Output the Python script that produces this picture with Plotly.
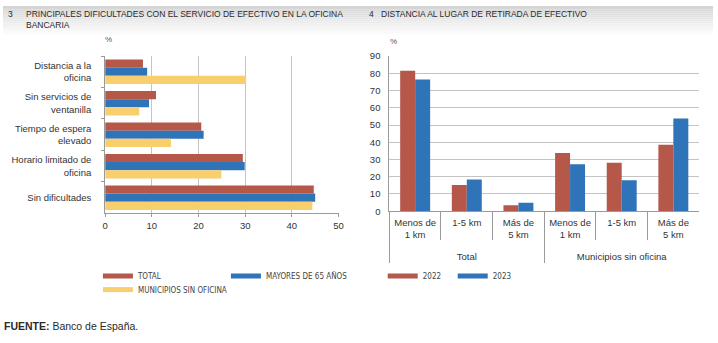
import plotly.graph_objects as go

W, H = 718, 343

# ---- data: chart 3 ----
dif_categories = ["Distancia a la<br>oficina", "Sin servicios de<br>ventanilla",
                  "Tiempo de espera<br>elevado", "Horario limitado de<br>oficina", "Sin dificultades"]
dif_total = [8.1, 10.9, 20.6, 29.5, 44.7]
dif_mayores = [9.0, 9.4, 21.1, 29.9, 45.0]
dif_municipios = [30.2, 7.3, 14.1, 24.9, 44.4]
dif_series_names = ["TOTAL", "MAYORES DE 65 AÑOS", "MUNICIPIOS SIN OFICINA"]

# ---- data: chart 4 ----
dist_groups = ["Total", "Total", "Total",
               "Municipios sin oficina", "Municipios sin oficina", "Municipios sin oficina"]
dist_labels = ["Menos de<br>1 km", "1-5 km", "Más de<br>5 km",
               "Menos de<br>1 km", "1-5 km", "Más de<br>5 km"]
dist_2022 = [81.4, 15.2, 3.5, 33.7, 28.1, 38.6]
dist_2023 = [76.4, 18.4, 4.9, 27.3, 18.0, 53.8]
dist_series_names = ["2022", "2023"]

RED = "#B5584A"
BLUE = "#2F73B8"
YELLOW = "#F9CF6D"
FONT = "Liberation Sans, Arial, sans-serif"
NARROW = "Liberation Sans Narrow, DejaVu Sans Condensed, sans-serif"
GRID = "#C4C4C4"
AXIS = "#9A9A9A"


def px(x):
    return x / W


def py(y):
    return 1 - y / H


# pad inner labels with a small trailing line to push the group labels lower
dist_labels_padded = [lab + "<br><span style='font-size:4px'>&nbsp;</span>" for lab in dist_labels]

fig = go.Figure()

for name, vals, col in zip(dif_series_names, [dif_total, dif_mayores, dif_municipios], [RED, BLUE, YELLOW]):
    fig.add_trace(go.Bar(y=dif_categories, x=vals, orientation="h", marker_color=col,
                         marker_line_width=0, name=name, showlegend=False,
                         xaxis="x", yaxis="y", hoverinfo="x"))

BW = 0.29
for name, vals, col, off in zip(dist_series_names, [dist_2022, dist_2023], [RED, BLUE], [-BW, 0]):
    fig.add_trace(go.Bar(x=[dist_groups, dist_labels_padded], y=vals, marker_color=col,
                         marker_line_width=0, name=name, showlegend=False,
                         width=BW, offset=off,
                         xaxis="x2", yaxis="y2", hoverinfo="y"))

# legend dummies (line swatches)
legend_ids = ["legend", "legend", "legend2"]
for name, col, lg in zip(dif_series_names, [RED, BLUE, YELLOW], legend_ids):
    fig.add_trace(go.Scatter(x=[None], y=[None], mode="lines", line=dict(color=col, width=5),
                             name=name, legend=lg, xaxis="x", yaxis="y"))
for name, col in zip(dist_series_names, [RED, BLUE]):
    fig.add_trace(go.Scatter(x=[None], y=[None], mode="lines", line=dict(color=col, width=5),
                             name=name, legend="legend3", xaxis="x", yaxis="y"))

shapes = []
# header gradient
n = 16
for i in range(n):
    g = int(212 + (255 - 212) * (i / (n - 1)) ** 0.9)
    shapes.append(dict(type="rect", xref="paper", yref="paper", x0=0, x1=1,
                       y0=py(i * 2 + 2), y1=py(i * 2), fillcolor=f"rgb({g},{g},{g})",
                       line_width=0, layer="below"))


def ann(text, x, y, xanchor="left", yanchor="middle", size=8.5, color="#2a2a2a", **kw):
    return dict(text=text, x=px(x), y=py(y), xref="paper", yref="paper", xanchor=xanchor,
                yanchor=yanchor, showarrow=False, font=dict(size=size, family=FONT, color=color), **kw)


annotations = [
    ann("3", 3, 8),
    ann("PRINCIPALES DIFICULTADES CON EL SERVICIO DE EFECTIVO EN LA OFICINA<br>BANCARIA",
        21, 1, yanchor="top", align="left"),
    ann("4", 368, 8),
    ann("DISTANCIA AL LUGAR DE RETIRADA DE EFECTIVO", 380, 8),
    ann("%", 107, 35, xanchor="center", size=8, color="#555"),
    ann("%", 395, 37, xanchor="center", size=8, color="#555"),
    ann("<b>FUENTE:</b> Banco de España.", -1, 331, size=10.5),
]

leg_common = dict(orientation="h", bgcolor="rgba(0,0,0,0)", borderwidth=0,
                  font=dict(size=8, family=NARROW, color="#444"), xanchor="left",
                  yanchor="middle", itemclick=False, itemdoubleclick=False, tracegroupgap=0)

fig.update_layout(
    width=W, height=H, margin=dict(l=0, r=0, t=0, b=0),
    paper_bgcolor="white", plot_bgcolor="rgba(0,0,0,0)",
    font=dict(family=FONT, size=9.5, color="#333"),
    barmode="group",
    shapes=shapes, annotations=annotations,
    xaxis=dict(domain=[px(103.3), px(339.3)], range=[0, 50], dtick=10, showgrid=True,
               gridcolor=GRID, gridwidth=1, zeroline=False, showline=True, linecolor=AXIS,
               ticks="outside", ticklen=3, tickcolor=AXIS, anchor="y",
               tickfont=dict(size=9.5, family=FONT, color="#333"), fixedrange=True),
    yaxis=dict(domain=[py(214.3), py(51.7)], autorange="reversed", type="category",
               showline=True, linecolor=AXIS, ticks="outside", ticklen=3, tickcolor=AXIS,
               tickson="boundaries", showgrid=False, anchor="x", ticklabelstandoff=11,
               tickfont=dict(size=9.5, family=FONT, color="#333"), fixedrange=True),
    xaxis2=dict(domain=[px(390.7), px(704)], type="multicategory", anchor="y2",
                showline=True, linecolor=AXIS, ticks="outside", ticklen=28, tickcolor=AXIS,
                tickson="boundaries", showdividers=True, dividercolor=AXIS, dividerwidth=1,
                ticklabelstandoff=2,
                tickfont=dict(size=9.5, family=FONT, color="#333"), fixedrange=True),
    yaxis2=dict(domain=[py(212), py(51.7)], range=[0, 90], dtick=10, anchor="x2",
                showgrid=True, gridcolor=GRID, zeroline=False, showline=True, linecolor=AXIS,
                ticks="", ticklabelstandoff=6,
                tickfont=dict(size=9.5, family=FONT, color="#333"), fixedrange=True),
    bargap=0.22, bargroupgap=0,
    legend=dict(x=px(96), y=py(279), entrywidth=83, **leg_common),
    legend2=dict(x=px(96), y=py(293), **leg_common),
    legend3=dict(x=px(384), y=py(279), entrywidth=25, **leg_common),
)

fig.write_html("out.html")
